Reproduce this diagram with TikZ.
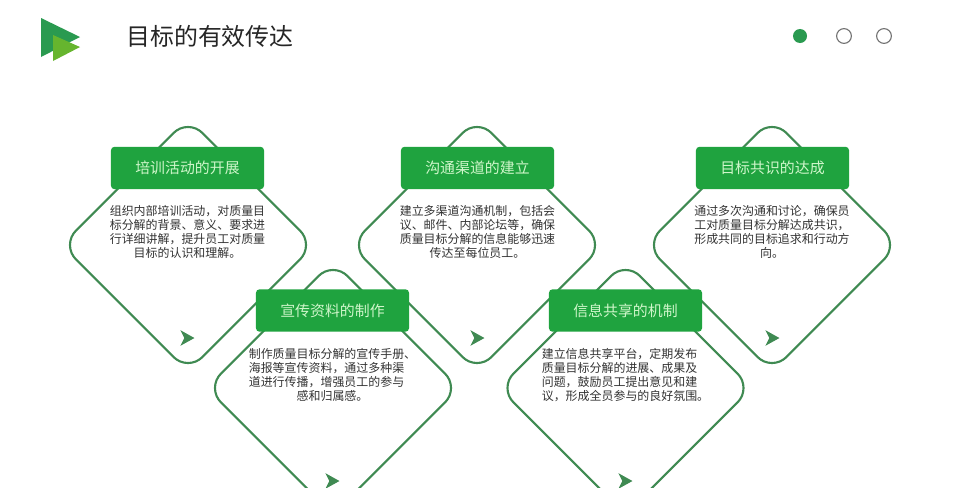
\documentclass[tikz,border=0pt]{standalone}
\usepackage{fontspec}
\setmainfont{Noto Sans CJK SC}
\usetikzlibrary{arrows.meta, positioning, shapes.geometric}
\definecolor{cardgreen}{HTML}{3F8A52}
\definecolor{headgreen}{HTML}{1FA33F}
\definecolor{headtext}{HTML}{CFF6CA}
\definecolor{bodytext}{HTML}{333333}
\definecolor{logodark}{HTML}{2A9A50}
\definecolor{logolight}{HTML}{66B52E}
\newcommand{\padchar}{\phantom{、}}

\begin{document}
\begin{tikzpicture}[
    x=0.025cm, y=-0.025cm,
    card/.style={draw=cardgreen, rectangle, line width=1.5pt, rounded corners=0.51cm, rotate=45, minimum size=4.47cm},
    head/.style={rectangle, rounded corners=2.5pt, fill=headgreen, text=headtext, align=center, minimum width=3.825cm, minimum height=1.06cm, font=\fontsize{10.6}{13}\selectfont},
    body/.style={align=center, text=bodytext, inner sep=0pt, font=\fontsize{8.5}{10.1}\selectfont},
    pointer/.style={shape=dart, fill=cardgreen, inner sep=0.5pt, minimum size=0.35cm, dart tip angle=58, dart tail angle=125},
    dot/.style={circle, inner sep=0pt, minimum size=0.37cm}
]
\path[use as bounding box, clip] (0,0) rectangle (960,487);

\fill[fill=white] (0,0) rectangle (960,487);

% logo and title
\coordinate (la) at (41,18);
\coordinate (lb) at (80,37);
\coordinate (lc) at (41,57);
\coordinate (ld) at (53,35);
\coordinate (le) at (80,47);
\coordinate (lf) at (53,61);
\fill[fill=logodark] (la) -- (lb) -- (lc) -- cycle;
\fill[fill=logolight] (ld) -- (le) -- (lf) -- cycle;
\node[inner sep=0pt, font=\fontsize{17}{20}\selectfont, text=black!85] (title) at (210,36) {目标的有效传达};

\node[dot, fill=logodark, minimum size=0.35cm] (d1) at (800,36) {};
\node[dot, draw=black!55, line width=0.8pt] (d2) at (844,36) {};
\node[dot, draw=black!55, line width=0.8pt] (d3) at (884,36) {};

% cards
\node[card] (c1) at (188,245) {};
\node[card] (c2) at (333,388) {};
\node[card] (c3) at (477,245) {};
\node[card] (c4) at (625.5,388) {};
\node[card] (c5) at (772,245) {};

\node[head] (h1) at (187.5,168) {培训活动的开展};
\node[head] (h2) at (332.5,310.5) {宣传资料的制作};
\node[head] (h3) at (477.5,168) {沟通渠道的建立};
\node[head] (h4) at (625.5,310.5) {信息共享的机制};
\node[head] (h5) at (772.5,168) {目标共识的达成};

\node[body] (t1) at (187.5,232) {组织内部培训活动，对质量目\\标分解的背景、意义、要求进\\行详细讲解，提升员工对质量\\目标的认识和理解。};
\node[body] (t2) at (332.5,375) {制作质量目标分解的宣传手册、\\海报等宣传资料，通过多种渠\padchar\\道进行传播，增强员工的参与\padchar\\感和归属感。};
\node[body] (t3) at (477.5,232) {建立多渠道沟通机制，包括会\\议、邮件、内部论坛等，确保\\质量目标分解的信息能够迅速\\传达至每位员工。};
\node[body] (t4) at (625.5,375) {建立信息共享平台，定期发布\padchar\\质量目标分解的进展、成果及\padchar\\问题，鼓励员工提出意见和建\padchar\\议，形成全员参与的良好氛围。};
\node[body] (t5) at (772,232) {通过多次沟通和讨论，确保员\\工对质量目标分解达成共识，\\形成共同的目标追求和行动方\\向。};

\node[pointer] (p1) at (187,338) {};
\node[pointer] (p2) at (332,481) {};
\node[pointer] (p3) at (477,338) {};
\node[pointer] (p4) at (625,481) {};
\node[pointer] (p5) at (772,338) {};
\end{tikzpicture}
\end{document}
